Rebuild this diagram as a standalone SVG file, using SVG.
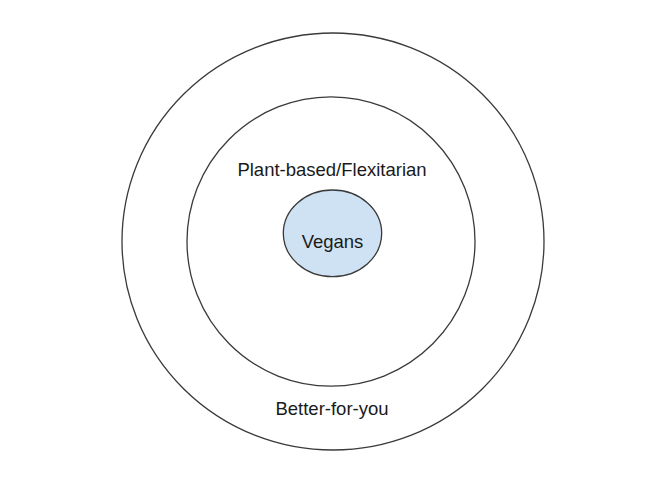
<svg xmlns="http://www.w3.org/2000/svg" width="658" height="494" viewBox="0 0 658 494">
<style>
.ring{fill:none;stroke:#3a3a3a;stroke-width:1.3}
.core{fill:#cfe2f3;stroke:#3a3a3a;stroke-width:1.3}
.lbl{font-family:"Liberation Sans",Arial,sans-serif;font-size:18.5px;fill:#1a1a1a;text-anchor:middle}
</style>
<rect width="658" height="494" fill="#ffffff"/>
<g id="better-for-you">
<ellipse class="ring" cx="333" cy="241.5" rx="211" ry="208.5"/>
<text class="lbl" x="332" y="414.5">Better-for-you</text>
</g>
<g id="plant-based">
<ellipse class="ring" cx="331" cy="241.5" rx="144" ry="144.7"/>
<text class="lbl" x="332" y="175.7">Plant-based/Flexitarian</text>
</g>
<g id="vegans">
<ellipse class="core" cx="332.5" cy="233.3" rx="49.2" ry="43.3"/>
<text class="lbl" x="332.5" y="248.3">Vegans</text>
</g>
<g id="connectors"></g>
</svg>
